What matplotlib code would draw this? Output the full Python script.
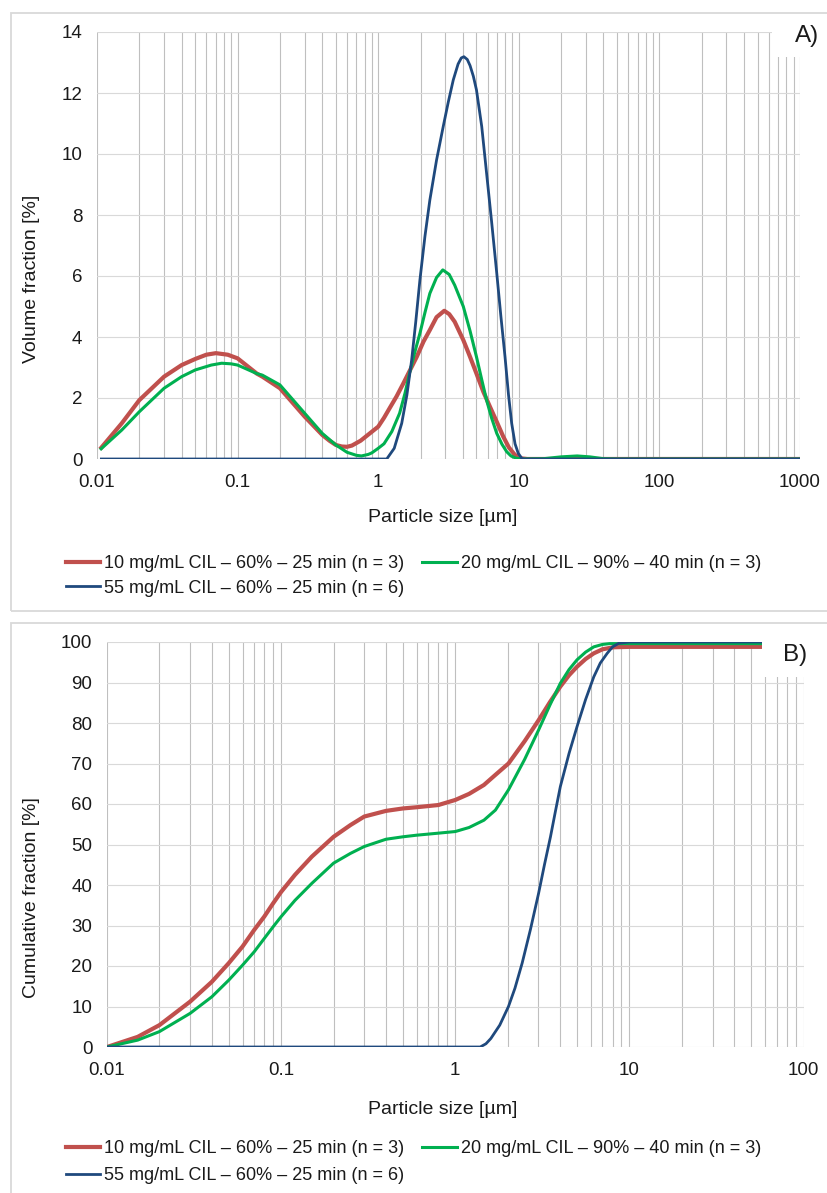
"""Particle size distributions (volume and cumulative) for three CIL formulations."""
import matplotlib
matplotlib.use("Agg")
import matplotlib.pyplot as plt
from matplotlib.lines import Line2D
from matplotlib.patches import Rectangle
from matplotlib.ticker import FuncFormatter, LogLocator

plt.rcParams["font.family"] = ["Liberation Sans", "DejaVu Sans"]

LABELS = [
    "10 mg/mL CIL \u2013 60% \u2013 25 min (n = 3)",
    "20 mg/mL CIL \u2013 90% \u2013 40 min (n = 3)",
    "55 mg/mL CIL \u2013 60% \u2013 25 min (n = 6)",
]
COLORS = ["#c0504d", "#00b050", "#1f497d"]
WIDTHS = [3.0, 2.2, 2.0]

# A) volume fraction [%] vs particle size [um]
size_a_10 = [0.0105, 0.015, 0.02, 0.03, 0.04, 0.05, 0.06, 0.07, 0.085, 0.1,
             0.137, 0.15, 0.2, 0.3, 0.4, 0.45, 0.5, 0.55, 0.6, 0.65, 0.75, 0.85,
             1.0, 1.1, 1.2, 1.35, 1.51, 1.7, 1.88, 2.1, 2.33, 2.6, 2.95, 3.2, 3.5,
             4.03, 4.5, 5.0, 5.6, 6.24, 7.0, 7.76, 8.5, 9.4, 10.5, 11.5, 20, 100,
             1000]
vol_10 = [0.32, 1.17, 1.93, 2.7, 3.08, 3.28, 3.42, 3.47, 3.42, 3.3,
          2.8, 2.7, 2.32, 1.39, 0.79, 0.6, 0.46, 0.41, 0.40, 0.44, 0.6, 0.8,
          1.06, 1.35, 1.65, 2.05, 2.48, 2.95, 3.35, 3.85, 4.23, 4.65, 4.86, 4.75,
          4.5, 3.9, 3.35, 2.8, 2.2, 1.71, 1.2, 0.73, 0.38, 0.13, 0.02, 0.0, 0.0,
          0.0, 0.0]

size_a_20 = [0.0105, 0.015, 0.02, 0.03, 0.04, 0.05, 0.065, 0.077, 0.09, 0.1,
             0.137, 0.15, 0.2, 0.3, 0.4, 0.5, 0.6, 0.7, 0.76, 0.85, 0.9, 1.0, 1.1,
             1.25, 1.42, 1.55, 1.67, 1.82, 1.98, 2.15, 2.33, 2.6, 2.88, 3.2, 3.5,
             4.03, 4.5, 5.0, 5.45, 5.9, 6.4, 6.97, 7.6, 8.2, 8.8, 9.5, 10.5, 15,
             20, 26, 32, 40, 50, 1000]
vol_20 = [0.3, 0.95, 1.55, 2.32, 2.7, 2.92, 3.08, 3.14, 3.12, 3.08,
          2.8, 2.75, 2.43, 1.5, 0.84, 0.46, 0.22, 0.12, 0.1, 0.15, 0.2, 0.35, 0.5,
          0.9, 1.5, 2.15, 2.81, 3.5, 4.12, 4.8, 5.43, 5.95, 6.2, 6.05, 5.7,
          5.0, 4.2, 3.35, 2.6, 1.93, 1.35, 0.84, 0.48, 0.24, 0.1, 0.03, 0.0, 0.01,
          0.07, 0.1, 0.07, 0.01, 0.0, 0.0]

size_a_55 = [0.0105, 0.1, 1.0, 1.15, 1.3, 1.47, 1.6, 1.73, 1.85, 1.98, 2.15,
             2.33, 2.6, 2.9, 3.15, 3.42, 3.7, 3.9, 4.07, 4.3, 4.5, 4.75, 5.0, 5.45,
             5.9, 6.4, 6.97, 7.45, 7.98, 8.45, 8.9, 9.4, 9.9, 10.5, 11, 100, 1000]
vol_55 = [0.0, 0.0, 0.0, 0.0, 0.35, 1.17, 2.1, 3.25, 4.5, 5.87, 7.3,
          8.49, 9.8, 10.9, 11.7, 12.43, 12.95, 13.15, 13.19, 13.1, 12.9, 12.55,
          12.1, 10.9, 9.37, 7.8, 6.09, 4.7, 3.35, 2.1, 1.17, 0.5, 0.19, 0.02, 0.0,
          0.0, 0.0]

# B) cumulative fraction [%] vs particle size [um]
size_b_10 = [0.01, 0.015, 0.02, 0.03, 0.04, 0.05, 0.06, 0.07, 0.08, 0.09, 0.1,
             0.12, 0.15, 0.2, 0.25, 0.3, 0.4, 0.5, 0.6, 0.8, 1.0, 1.2, 1.46, 1.7,
             2.02, 2.5, 3.01, 3.5, 4.01, 4.5, 5.0, 5.6, 6.24, 7.0, 8.1, 10, 58]
cum_10 = [0.0, 2.5, 5.4, 11.2, 16.1, 20.7, 24.8, 28.9, 32.2, 35.5, 38.3,
          42.5, 47.0, 51.9, 54.8, 56.9, 58.3, 58.9, 59.2, 59.75, 61.0, 62.5, 64.7,
          67.2, 70.0, 75.5, 80.7, 85.2, 89.0, 91.8, 93.9, 95.8, 97.2, 98.2, 98.7,
          98.8, 98.8]

size_b_20 = [0.01, 0.015, 0.02, 0.03, 0.04, 0.05, 0.06, 0.07, 0.08, 0.09, 0.1,
             0.12, 0.15, 0.2, 0.25, 0.3, 0.4, 0.5, 0.6, 0.8, 1.0, 1.2, 1.46, 1.7,
             2.02, 2.5, 3.01, 3.5, 4.01, 4.5, 5.0, 5.6, 6.24, 7.0, 7.7, 10, 58]
cum_20 = [0.0, 1.7, 3.8, 8.3, 12.4, 16.5, 20.2, 23.5, 26.8, 29.7, 32.2,
          36.2, 40.4, 45.4, 47.8, 49.5, 51.3, 51.9, 52.3, 52.8, 53.2, 54.2, 56.0,
          58.5, 63.5, 71.0, 78.3, 84.5, 89.8, 93.2, 95.6, 97.5, 98.8, 99.4, 99.6,
          99.6, 99.6]

size_b_55 = [0.01, 0.1, 1.0, 1.39, 1.5, 1.6, 1.8, 2.02, 2.2, 2.42, 2.7, 3.01,
             3.25, 3.52, 3.75, 4.01, 4.5, 5.0, 5.6, 6.24, 6.8, 7.45, 8.0, 8.7, 10,
             58]
cum_55 = [0.0, 0.0, 0.0, 0.0, 0.8, 2.1, 5.4, 10.0, 14.5, 20.7, 29.0, 38.0,
          45.0, 51.9, 58.0, 64.3, 72.5, 79.1, 85.8, 91.4, 94.8, 97.2, 98.8, 99.7,
          100.0, 100.0]

W, H = 828, 1193
TEXT = "#1a1a1a"


def fx(px):
    return px / W


def fy(py):
    return 1 - py / H


def style_axis(ax, xmax, ymax, ystep):
    ax.set_xscale("log")
    ax.set_xlim(0.01, xmax)
    ax.set_ylim(0, ymax)
    ax.set_yticks(range(0, ymax + 1, ystep))
    ax.xaxis.set_major_locator(LogLocator(base=10))
    ax.xaxis.set_minor_locator(LogLocator(base=10, subs=range(2, 10), numticks=20))
    ax.xaxis.set_major_formatter(FuncFormatter(lambda v, _: f"{v:g}"))
    ax.grid(True, axis="x", which="both", color="#bfbfbf", lw=0.8)
    ax.grid(True, axis="y", which="major", color="#d9d9d9", lw=0.8)
    for s in ax.spines.values():
        s.set_visible(False)
    ax.tick_params(axis="both", which="both", length=0, labelsize=13.5,
                   labelcolor=TEXT)
    ax.tick_params(axis="y", pad=10.5)
    ax.tick_params(axis="x", pad=10.5)
    ax.set_axisbelow(True)


def draw_series(ax, xs, ys):
    for x, y, c, lw in zip(xs, ys, COLORS, WIDTHS):
        ax.plot(x, y, color=c, lw=lw, solid_joinstyle="round",
                solid_capstyle="butt")


def add_legend(fig, top_px, spacing):
    handles = [Line2D([], [], color=c, lw=lw) for c, lw in zip(COLORS, WIDTHS)]
    order = [0, 2, 1]
    fig.legend([handles[i] for i in order], [LABELS[i] for i in order],
               ncol=2, loc="upper left", bbox_to_anchor=(fx(66), fy(top_px)),
               frameon=False, borderpad=0, borderaxespad=0, fontsize=13,
               handlelength=1.9, handletextpad=0.22, columnspacing=1.0,
               labelspacing=spacing, labelcolor=TEXT)


fig = plt.figure(figsize=(W / 100, H / 100), dpi=100)

# panel frames
fig.add_artist(Rectangle((fx(10.5), fy(610.5)), fx(830 - 10.5), (610.5 - 12.5) / H,
                         transform=fig.transFigure, fill=False,
                         edgecolor="#d9d9d9", lw=1.3, zorder=1.5))
fig.add_artist(Rectangle((fx(11), fy(1200)), fx(830 - 11), (1200 - 622.5) / H,
                         transform=fig.transFigure, fill=False,
                         edgecolor="#d9d9d9", lw=1.3, zorder=1.5))

ax_a = fig.add_axes([fx(97), fy(459), (800 - 97) / W, (459 - 32) / H])
style_axis(ax_a, 1000, 14, 2)
draw_series(ax_a, [size_a_10, size_a_20, size_a_55], [vol_10, vol_20, vol_55])

ax_b = fig.add_axes([fx(107), fy(1047), (803.6 - 107) / W, (1047 - 642) / H])
style_axis(ax_b, 100, 100, 10)
draw_series(ax_b, [size_b_10, size_b_20, size_b_55], [cum_10, cum_20, cum_55])

# white boxes behind the panel letters
fig.add_artist(Rectangle((fx(772), fy(57)), fx(60), 42 / H, transform=fig.transFigure,
                         facecolor="white", edgecolor="none", zorder=1))
fig.add_artist(Rectangle((fx(762), fy(677)), fx(70), 52 / H, transform=fig.transFigure,
                         facecolor="white", edgecolor="none", zorder=1))
fig.text(fx(807), fy(36), "A)", fontsize=17.5, ha="center", va="center", color=TEXT)
fig.text(fx(795), fy(655), "B)", fontsize=17.5, ha="center", va="center", color=TEXT)

fig.text(fx(443), fy(518), "Particle size [\u00b5m]", fontsize=14, ha="center",
         va="center", color=TEXT)
fig.text(fx(443), fy(1110), "Particle size [\u00b5m]", fontsize=14, ha="center",
         va="center", color=TEXT)
fig.text(fx(32), fy(279), "Volume fraction [%]", fontsize=14, rotation=90,
         ha="center", va="center", color=TEXT)
fig.text(fx(32), fy(898), "Cumulative fraction [%]", fontsize=14, rotation=90,
         ha="center", va="center", color=TEXT)

add_legend(fig, 555, 0.42)
add_legend(fig, 1140, 0.58)

fig.savefig("out.png", dpi=100)
